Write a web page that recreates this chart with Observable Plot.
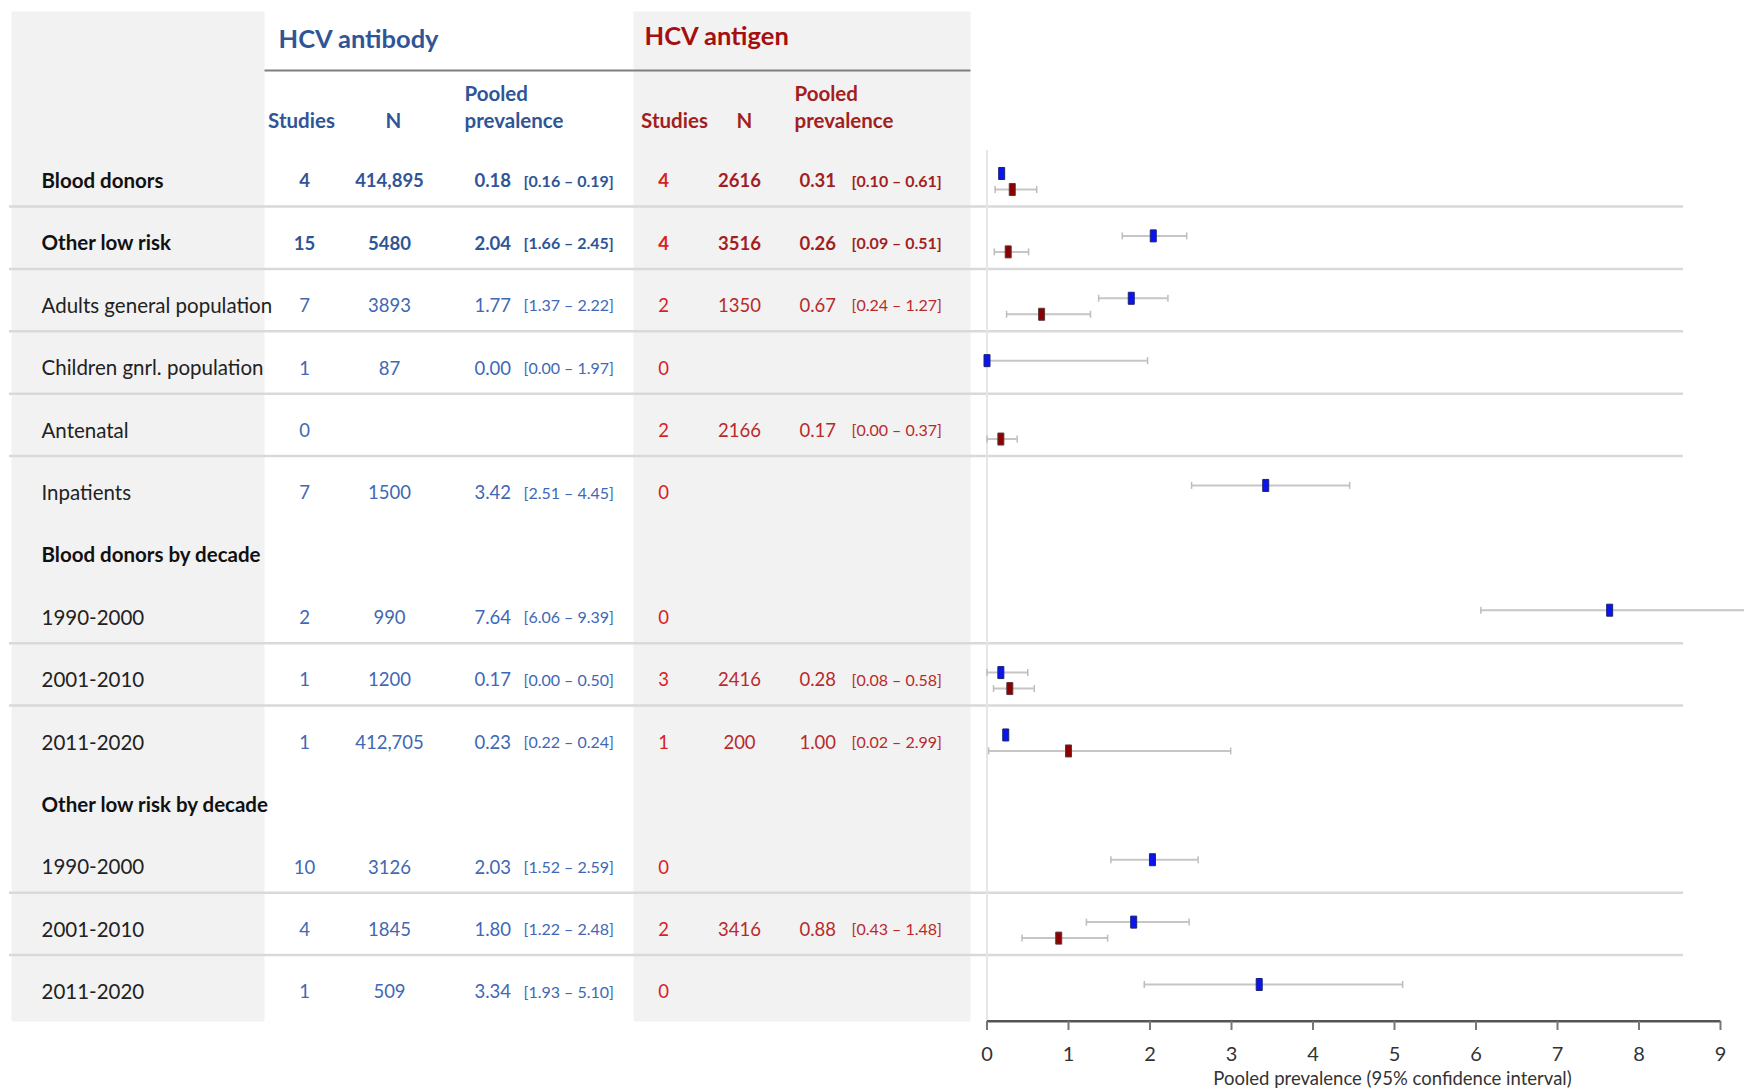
<!DOCTYPE html>
<html>
<head>
<meta charset="utf-8">
<script src="https://cdn.jsdelivr.net/npm/d3@7"></script>
<script src="https://cdn.jsdelivr.net/npm/@observablehq/plot@0.6"></script>
<style>
  html, body { margin: 0; padding: 0; background: #fff; }
  #chart { width: 1744px; height: 1089px; }
</style>
</head>
<body>
<div id="chart"></div>
<script>
// ---------------- data ----------------
const labels = ["Blood donors", "Other low risk", "Adults general population", "Children gnrl. population",
  "Antenatal", "Inpatients", "Blood donors by decade", "1990-2000", "2001-2010", "2011-2020",
  "Other low risk by decade", "1990-2000", "2001-2010", "2011-2020"];
const rowKind = ["total", "total", "sub", "sub", "sub", "sub", "group", "sub", "sub", "sub", "group", "sub", "sub", "sub"];

const abStudies = [4, 15, 7, 1, 0, 7, null, 2, 1, 1, null, 10, 4, 1];
const abN = [414895, 5480, 3893, 87, null, 1500, null, 990, 1200, 412705, null, 3126, 1845, 509];
const abPrev = [0.18, 2.04, 1.77, 0.00, null, 3.42, null, 7.64, 0.17, 0.23, null, 2.03, 1.80, 3.34];
const abLo = [0.16, 1.66, 1.37, 0.00, null, 2.51, null, 6.06, 0.00, 0.22, null, 1.52, 1.22, 1.93];
const abHi = [0.19, 2.45, 2.22, 1.97, null, 4.45, null, 9.39, 0.50, 0.24, null, 2.59, 2.48, 5.10];

const agStudies = [4, 4, 2, 0, 2, 0, null, 0, 3, 1, null, 0, 2, 0];
const agN = [2616, 3516, 1350, null, 2166, null, null, null, 2416, 200, null, null, 3416, null];
const agPrev = [0.31, 0.26, 0.67, null, 0.17, null, null, null, 0.28, 1.00, null, null, 0.88, null];
const agLo = [0.10, 0.09, 0.24, null, 0.00, null, null, null, 0.08, 0.02, null, null, 0.43, null];
const agHi = [0.61, 0.51, 1.27, null, 0.37, null, null, null, 0.58, 2.99, null, null, 1.48, null];

const separatorsAfter = [0, 1, 2, 3, 4, 7, 8, 11, 12];
const xTicks = [0, 1, 2, 3, 4, 5, 6, 7, 8, 9];

// ---------------- build ----------------
const rows = labels.map((label, i) => ({
  i, label, kind: rowKind[i],
  abStudies: abStudies[i], abN: abN[i], abPrev: abPrev[i], abLo: abLo[i], abHi: abHi[i],
  agStudies: agStudies[i], agN: agN[i], agPrev: agPrev[i], agLo: agLo[i], agHi: agHi[i]
}));

const W = 1744, H = 1089;
const xRange = [986.5, 1720];
const frameBottom = 1021;
const f2 = d3.format(".2f");
const fN = n => n >= 10000 ? d3.format(",")(n) : String(n);
const ci = (lo, hi) => `[${f2(lo)} – ${f2(hi)}]`;

const BLUE_B = "#2f5597", BLUE = "#4068b4";
const RED_B = "#a31f1f", RED = "#b82a2a", RED_S = "#d92121";
const GRAY_BG = "#f2f2f2";

const boxSymbol = { draw(ctx) { ctx.rect(-3, -6, 6, 12); } };
const capSymbol = { draw(ctx) { ctx.moveTo(0, -3.5); ctx.lineTo(0, 3.5); } };

function column(value, fmt, dx, anchor, fillBold, fillReg, size) {
  const has = d => d[value] != null;
  const base = { y: "i", frameAnchor: "left", dx, textAnchor: anchor, lineAnchor: "middle", fontSize: size, text: d => fmt(d) };
  return [
    Plot.text(rows.filter(d => has(d) && d.kind === "total"), { ...base, fill: fillBold, fontWeight: "bold" }),
    Plot.text(rows.filter(d => has(d) && d.kind !== "total"), { ...base, fill: fillReg, fontWeight: "normal" })
  ];
}

function header(txt, dx, dy, anchor, fill, size, extra = {}) {
  return Plot.text([txt], { frameAnchor: "top-left", dx, dy, textAnchor: anchor, lineAnchor: "middle", fill, fontSize: size, fontWeight: "bold", text: d => d, ...extra });
}

function series(data, prev, lo, hi, dy, fill, stroke) {
  return [
    Plot.ruleY(data, { y: "i", x1: lo, x2: hi, dy, stroke: "#c6c6c6", strokeWidth: 2 }),
    Plot.dot(data, { x: lo, y: "i", dy, symbol: capSymbol, stroke: "#bdbdbd", strokeWidth: 1.5 }),
    Plot.dot(data, { x: hi, y: "i", dy, symbol: capSymbol, stroke: "#bdbdbd", strokeWidth: 1.5 }),
    Plot.dot(data, { x: prev, y: "i", dy, symbol: boxSymbol, fill, stroke, strokeWidth: 1 })
  ];
}

const abData = rows.filter(d => d.abPrev != null);
const agData = rows.filter(d => d.agPrev != null);

const chart = Plot.plot({
  width: W,
  height: H,
  marginTop: 0, marginLeft: 0, marginRight: 0, marginBottom: H - frameBottom,
  style: { fontFamily: "Lato, 'Open Sans', sans-serif", background: "#fff" },
  x: { domain: [0, 9], range: xRange },
  y: { domain: [0, 13], range: [181, 992], axis: null },
  marks: [
    // table backgrounds
    Plot.frame({ fill: GRAY_BG, stroke: "none", insetLeft: 11, insetRight: W - 264, insetTop: 11 }),
    Plot.frame({ fill: GRAY_BG, stroke: "none", insetLeft: 633, insetRight: W - 970, insetTop: 11 }),
    // header underline
    Plot.frame({ fill: "#7f7f7f", stroke: "none", insetLeft: 264, insetRight: W - 970, insetTop: 69, insetBottom: frameBottom - 71 }),
    // row separators
    Plot.ruleY(separatorsAfter, { y: d => d, dy: 25, stroke: "#d9d9d9", strokeWidth: 2.5, insetLeft: 9, insetRight: W - 1683 }),
    // zero reference
    Plot.ruleX([0], { stroke: "#e6e6e6", strokeWidth: 2, insetTop: 150 }),
    // axis
    Plot.frame({ fill: "#555", stroke: "none", insetLeft: xRange[0], insetRight: W - xRange[1], insetTop: frameBottom - 1.5, insetBottom: -1 }),
    Plot.axisX({ ticks: xTicks, tickFormat: d => String(d), tickSize: 9, tickPadding: 16, stroke: "#777", strokeWidth: 2, fill: "#333", fontSize: 20, label: null }),
    Plot.text(["Pooled prevalence (95% confidence interval)"], { frameAnchor: "bottom-left", dx: 1392, dy: 58, textAnchor: "middle", lineAnchor: "middle", fontSize: 18.5, fill: "#333", text: d => d }),

    // headers
    header("HCV antibody", 278, 39, "start", BLUE_B, 25.5),
    header("HCV antigen", 644, 36, "start", "#a50f0f", 25.5),
    header("Studies", 301, 121, "middle", BLUE_B, 20.5),
    header("N", 393, 121, "middle", BLUE_B, 20.5),
    header("Pooled\nprevalence", 464, 105.5, "start", BLUE_B, 20.5, { lineHeight: 1.32 }),
    header("Studies", 674, 121, "middle", RED_B, 20.5),
    header("N", 744, 121, "middle", RED_B, 20.5),
    header("Pooled\nprevalence", 794, 105.5, "start", RED_B, 20.5, { lineHeight: 1.32 }),

    // row labels
    Plot.text(rows.filter(d => d.kind !== "sub"), { y: "i", frameAnchor: "left", dx: 41, textAnchor: "start", lineAnchor: "middle", text: "label", fontSize: 20.5, fontWeight: "bold", fill: "#111" }),
    Plot.text(rows.filter(d => d.kind === "sub"), { y: "i", frameAnchor: "left", dx: 41, textAnchor: "start", lineAnchor: "middle", text: "label", fontSize: 20.5, fill: "#222" }),

    // antibody columns
    ...column("abStudies", d => String(d.abStudies), 304, "middle", BLUE_B, BLUE, 18.5),
    ...column("abN", d => fN(d.abN), 389, "middle", BLUE_B, BLUE, 18.5),
    ...column("abPrev", d => f2(d.abPrev), 474, "start", BLUE_B, BLUE, 18.5),
    ...column("abPrev", d => ci(d.abLo, d.abHi), 523, "start", BLUE_B, BLUE, 16),

    // antigen columns
    ...column("agStudies", d => String(d.agStudies), 663, "middle", RED_S, RED_S, 18.5),
    ...column("agN", d => fN(d.agN), 739, "middle", RED_B, RED, 18.5),
    ...column("agPrev", d => f2(d.agPrev), 799, "start", RED_B, RED, 18.5),
    ...column("agPrev", d => ci(d.agLo, d.agHi), 851, "start", RED_B, RED, 16),

    // forest plot
    ...series(abData, "abPrev", "abLo", "abHi", -8, "#0a14f0", "#1c2470"),
    ...series(agData, "agPrev", "agLo", "agHi", 8, "#8b0000", "#5a3a3a")
  ]
});

document.getElementById("chart").appendChild(chart);
</script>
</body>
</html>
